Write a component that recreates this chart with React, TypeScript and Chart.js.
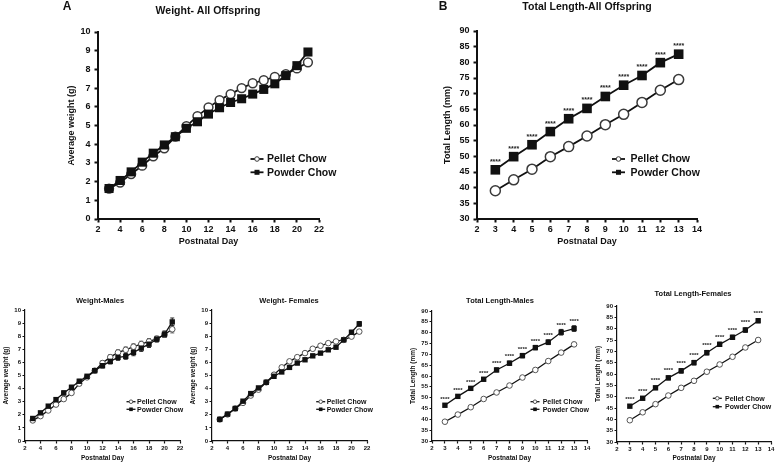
import React, { useEffect, useRef } from "react";
import { Chart, registerables } from "chart.js";

Chart.register(...registerables);

const FONT = "'Liberation Sans', Arial, Helvetica, sans-serif";

// ---------- data ----------
const seriesNames = ["Pellet Chow", "Powder Chow"];
const starLabel = "****";
const xTitleText = "Postnatal Day";
const weightTitleText = "Average weight (g)";
const lengthTitleText = "Total Length (mm)";

const weightDays = [3, 4, 5, 6, 7, 8, 9, 10, 11, 12, 13, 14, 15, 16, 17, 18, 19, 20, 21];
const lengthDays = [3, 4, 5, 6, 7, 8, 9, 10, 11, 12, 13];

const weightXRange = [2, 22, 2];
const weightYRange = [0, 10, 1];
const lengthXRange = [2, 14, 1];
const lengthYRange = [30, 90, 5];

const allWeightPellet = [1.62, 1.95, 2.4, 2.85, 3.35, 3.78, 4.4, 4.97, 5.5, 5.97, 6.36, 6.68, 7.0, 7.26, 7.42, 7.6, 7.74, 8.05, 8.38];
const allWeightPowder = [1.63, 2.06, 2.52, 3.04, 3.52, 3.96, 4.4, 4.85, 5.2, 5.61, 5.95, 6.23, 6.43, 6.68, 6.93, 7.23, 7.67, 8.2, 8.93];

const allLengthPellet = [39.0, 42.5, 45.9, 49.9, 53.1, 56.5, 60.1, 63.4, 67.2, 71.1, 74.5];
const allLengthPowder = [45.7, 49.9, 53.7, 57.9, 62.0, 65.3, 69.1, 72.7, 75.8, 79.9, 82.6];

const maleWeightPellet = [1.57, 1.9, 2.33, 2.78, 3.2, 3.67, 4.38, 4.86, 5.37, 5.95, 6.4, 6.76, 6.96, 7.2, 7.4, 7.6, 7.8, 8.13, 8.53];
const maleWeightPowder = [1.72, 2.15, 2.66, 3.16, 3.67, 4.1, 4.56, 4.94, 5.37, 5.75, 6.08, 6.38, 6.46, 6.76, 7.09, 7.39, 7.77, 8.15, 9.09];
const maleWeightPelletErr = [0.05, 0.06, 0.08, 0.1, 0.12, 0.14, 0.15, 0.15, 0.15, 0.18, 0.2, 0.2, 0.22, 0.22, 0.22, 0.22, 0.2, 0.22, 0.28];
const maleWeightPowderErr = [0.06, 0.08, 0.1, 0.12, 0.15, 0.15, 0.15, 0.14, 0.15, 0.18, 0.2, 0.22, 0.22, 0.25, 0.25, 0.25, 0.22, 0.25, 0.3];

const femaleWeightPellet = [1.65, 2.03, 2.48, 2.91, 3.47, 3.92, 4.48, 5.06, 5.62, 6.08, 6.4, 6.71, 7.04, 7.27, 7.47, 7.6, 7.72, 7.97, 8.35];
const femaleWeightPowder = [1.65, 2.05, 2.48, 3.04, 3.62, 4.05, 4.48, 4.94, 5.27, 5.62, 5.95, 6.2, 6.5, 6.71, 6.96, 7.16, 7.72, 8.3, 8.94];
const femaleWeightPelletErr = [0.04, 0.05, 0.06, 0.08, 0.08, 0.1, 0.1, 0.1, 0.1, 0.12, 0.12, 0.12, 0.12, 0.12, 0.12, 0.12, 0.12, 0.12, 0.15];
const femaleWeightPowderErr = [0.05, 0.06, 0.07, 0.1, 0.1, 0.12, 0.12, 0.12, 0.12, 0.12, 0.12, 0.12, 0.12, 0.12, 0.12, 0.12, 0.12, 0.15, 0.18];

const maleLengthPellet = [38.9, 42.2, 45.6, 49.4, 52.4, 55.6, 59.3, 62.8, 66.9, 70.8, 74.6];
const maleLengthPowder = [46.5, 50.6, 54.3, 58.5, 62.8, 65.9, 69.4, 73.1, 75.6, 80.2, 81.9];
const maleLengthPelletErr = [0.5, 0.5, 0.6, 0.6, 0.6, 0.6, 0.7, 0.7, 0.7, 0.7, 0.9];
const maleLengthPowderErr = [0.6, 0.6, 0.7, 0.8, 0.9, 1.0, 1.0, 1.0, 1.1, 1.3, 1.3];

const femaleLengthPellet = [39.6, 43.1, 46.7, 50.5, 53.9, 57.0, 61.0, 64.2, 67.6, 71.7, 75.0];
const femaleLengthPowder = [45.8, 49.3, 53.9, 58.3, 61.4, 65.0, 69.4, 73.1, 76.2, 79.4, 83.5];
const femaleLengthPelletErr = [0.4, 0.5, 0.5, 0.5, 0.6, 0.6, 0.6, 0.7, 0.7, 0.7, 0.8];
const femaleLengthPowderErr = [0.6, 0.7, 0.8, 0.9, 1.0, 1.0, 1.0, 0.9, 0.9, 1.0, 0.9];

// ---------- styles ----------
const bigStyle = {
  titleSize: 10.5, axisTitleSize: 9, tickSize: 9, legendSize: 10.5, starSize: 7,
  tickLen: 3.5, axisW: 2, lineW: 1.8, circleR: 4.4, rectR: 6.4, markerBW: 1.5,
  legendHalf: 6.5, legendCircleR: 2.3, legendRect: 5, pelletColor: "#3a3a3a",
  tickPadX: 2, tickPadY: 4, capW: 3, starOff: 10,
};
const smallStyle = {
  titleSize: 7.5, axisTitleSize: 6.5, tickSize: 6, legendSize: 7, starSize: 6,
  tickLen: 2.5, axisW: 1.2, lineW: 1.3, circleR: 2.8, rectR: 3.8, markerBW: 1,
  legendHalf: 4.5, legendCircleR: 1.8, legendRect: 3.6, pelletColor: "#555",
  tickPadX: 1.5, tickPadY: 1.5, capW: 2, starOff: 6,
};

type Cfg = any;

const panels: Cfg[] = [
  {
    st: bigStyle, box: { x: 40, y: 0, w: 320, h: 252 }, plot: { l: 98, t: 32, r: 319, b: 219 },
    xr: weightXRange, yr: weightYRange, days: weightDays, pellet: allWeightPellet, powder: allWeightPowder,
    title: "Weight- All Offspring", titleX: 208, titleY: 11, letter: "A", letterX: 67, letterY: 7,
    yTitle: weightTitleText, yTitleX: 71.7, xTitleY: 242,
    legend: { mx: 257, tx: 267, rows: [159, 172.3] }, stars: false,
  },
  {
    st: { ...bigStyle, circleR: 5, rectR: 6.8 }, box: { x: 420, y: 0, w: 300, h: 252 }, plot: { l: 477, t: 31, r: 697, b: 219 },
    xr: lengthXRange, yr: lengthYRange, days: lengthDays, pellet: allLengthPellet, powder: allLengthPowder,
    title: "Total Length-All Offspring", titleX: 587, titleY: 7.5, letter: "B", letterX: 443, letterY: 7,
    yTitle: lengthTitleText, yTitleX: 448, xTitleY: 242,
    legend: { mx: 618.5, tx: 630.5, rows: [159, 172.3] }, stars: true,
  },
  {
    st: smallStyle, box: { x: 0, y: 285, w: 188, h: 181 }, plot: { l: 25, t: 310, r: 180, b: 441 },
    xr: weightXRange, yr: weightYRange, days: weightDays, pellet: maleWeightPellet, powder: maleWeightPowder,
    pelletErr: maleWeightPelletErr, powderErr: maleWeightPowderErr,
    title: "Weight-Males", titleX: 100, titleY: 301,
    yTitle: weightTitleText, yTitleX: 6, xTitleY: 458,
    legend: { mx: 131, tx: 137, rows: [401.7, 409.3] }, stars: false,
  },
  {
    st: smallStyle, box: { x: 188, y: 285, w: 186, h: 181 }, plot: { l: 212, t: 310, r: 367, b: 441 },
    xr: weightXRange, yr: weightYRange, days: weightDays, pellet: femaleWeightPellet, powder: femaleWeightPowder,
    pelletErr: femaleWeightPelletErr, powderErr: femaleWeightPowderErr,
    title: "Weight- Females", titleX: 289, titleY: 301,
    yTitle: weightTitleText, yTitleX: 193, xTitleY: 458,
    legend: { mx: 320.7, tx: 326.7, rows: [401.7, 409.3] }, stars: false,
  },
  {
    st: smallStyle, box: { x: 400, y: 285, w: 192, h: 181 }, plot: { l: 432, t: 311, r: 587, b: 441 },
    xr: lengthXRange, yr: lengthYRange, days: lengthDays, pellet: maleLengthPellet, powder: maleLengthPowder,
    pelletErr: maleLengthPelletErr, powderErr: maleLengthPowderErr,
    title: "Total Length-Males", titleX: 500, titleY: 301,
    yTitle: lengthTitleText, yTitleX: 413, xTitleY: 458,
    legend: { mx: 535, tx: 542.7, rows: [401.7, 409.3] }, stars: true,
  },
  {
    st: { ...smallStyle, starOff: 7 }, box: { x: 592, y: 280, w: 185, h: 186 }, plot: { l: 617, t: 306, r: 771, b: 442 },
    xr: lengthXRange, yr: lengthYRange, days: lengthDays, pellet: femaleLengthPellet, powder: femaleLengthPowder,
    pelletErr: femaleLengthPelletErr, powderErr: femaleLengthPowderErr,
    title: "Total Length-Females", titleX: 693, titleY: 294.3,
    yTitle: lengthTitleText, yTitleX: 598, xTitleY: 458,
    legend: { mx: 717.3, tx: 725, rows: [398.3, 406.7] }, stars: true,
  },
];

function Panel({ cfg }: { cfg: Cfg }) {
  const ref = useRef<HTMLCanvasElement>(null);
  useEffect(() => {
    const c = cfg;
    const s = c.st;
    const W = c.box.w;
    const H = c.box.h;
    const yw = c.plot.l - c.box.x;
    const xh = c.box.y + H - c.plot.b;
    const padTop = c.plot.t - c.box.y;
    const padRight = c.box.x + W - c.plot.r;
    const half = (s.axisTitleSize * 1.2) / 2;
    const px = (v: number) => v - c.box.x;
    const py = (v: number) => v - c.box.y;
    const bold = (size: number) => ({ family: FONT, size, weight: "bold" as const });

    const drawMarker = (ctx: CanvasRenderingContext2D, kind: number, x: number, y: number, r: number, sq: number) => {
      ctx.save();
      if (kind === 0) {
        ctx.beginPath();
        ctx.arc(x, y, r, 0, Math.PI * 2);
        ctx.fillStyle = "#fff";
        ctx.fill();
        ctx.lineWidth = 1;
        ctx.strokeStyle = s.pelletColor;
        ctx.stroke();
      } else {
        ctx.fillStyle = "#111";
        ctx.fillRect(x - sq / 2, y - sq / 2, sq, sq);
      }
      ctx.restore();
    };

    const decor = {
      id: "decor",
      beforeDatasetsDraw(chart: any) {
        const ctx = chart.ctx;
        const xs = chart.scales.x;
        const ys = chart.scales.y;
        const sets = [
          { vals: c.pellet, err: c.pelletErr, color: s.pelletColor },
          { vals: c.powder, err: c.powderErr, color: "#111" },
        ];
        ctx.save();
        sets.forEach((set) => {
          if (!set.err) return;
          ctx.strokeStyle = set.color;
          ctx.lineWidth = 0.9;
          c.days.forEach((d: number, i: number) => {
            const x = xs.getPixelForValue(d);
            const y1 = ys.getPixelForValue(set.vals[i] + set.err[i]);
            const y2 = ys.getPixelForValue(set.vals[i] - set.err[i]);
            ctx.beginPath();
            ctx.moveTo(x, y1);
            ctx.lineTo(x, y2);
            ctx.moveTo(x - s.capW, y1);
            ctx.lineTo(x + s.capW, y1);
            ctx.moveTo(x - s.capW, y2);
            ctx.lineTo(x + s.capW, y2);
            ctx.stroke();
          });
        });
        ctx.restore();
      },
      afterDraw(chart: any) {
        const ctx = chart.ctx as CanvasRenderingContext2D;
        const ys = chart.scales.y;
        ctx.save();
        ctx.fillStyle = "#111";
        ctx.textAlign = "center";
        ctx.textBaseline = "middle";
        ctx.font = `bold ${s.titleSize}px ${FONT}`;
        ctx.fillText(c.title, px(c.titleX), py(c.titleY));
        if (c.letter) {
          ctx.font = `bold 12px ${FONT}`;
          ctx.fillText(c.letter, px(c.letterX), py(c.letterY));
        }
        // legend
        const lg = c.legend;
        seriesNames.forEach((name, k) => {
          const y = py(lg.rows[k]);
          const mx = px(lg.mx);
          ctx.strokeStyle = "#111";
          ctx.lineWidth = s.lineW;
          ctx.beginPath();
          ctx.moveTo(mx - s.legendHalf, y);
          ctx.lineTo(mx + s.legendHalf, y);
          ctx.stroke();
          drawMarker(ctx, k, mx, y, s.legendCircleR, s.legendRect);
          ctx.fillStyle = "#111";
          ctx.textAlign = "left";
          ctx.textBaseline = "middle";
          ctx.font = `bold ${s.legendSize}px ${FONT}`;
          ctx.fillText(name, px(lg.tx), y + 0.5);
        });
        // significance stars
        if (c.stars) {
          const meta = chart.getDatasetMeta(1);
          ctx.textAlign = "center";
          ctx.textBaseline = "alphabetic";
          ctx.fillStyle = "#222";
          ctx.font = `bold ${s.starSize}px ${FONT}`;
          meta.data.forEach((pt: any, i: number) => {
            let errPx = 0;
            if (c.powderErr) {
              errPx = ys.getPixelForValue(c.powder[i]) - ys.getPixelForValue(c.powder[i] + c.powderErr[i]);
            }
            const cy = pt.y - s.starOff - errPx;
            ctx.fillText(starLabel, pt.x, cy + 0.57 * s.starSize);
          });
        }
        ctx.restore();
      },
    };

    const mk = (vals: number[]) => c.days.map((d: number, i: number) => ({ x: d, y: vals[i] }));

    const chart = new Chart(ref.current as HTMLCanvasElement, {
      type: "line",
      data: {
        datasets: [
          {
            label: seriesNames[0],
            data: mk(c.pellet),
            borderColor: "#111",
            borderWidth: s.lineW,
            pointStyle: "circle",
            pointRadius: s.circleR,
            pointBackgroundColor: "#fff",
            pointBorderColor: s.pelletColor,
            pointBorderWidth: s.markerBW,
            order: 1,
            clip: false,
          } as any,
          {
            label: seriesNames[1],
            data: mk(c.powder),
            borderColor: "#111",
            borderWidth: s.lineW,
            pointStyle: "rect",
            pointRadius: s.rectR,
            pointBackgroundColor: "#111",
            pointBorderColor: "#111",
            pointBorderWidth: 0,
            order: 0,
            clip: false,
          } as any,
        ],
      },
      options: {
        responsive: false,
        maintainAspectRatio: false,
        animation: false,
        events: [],
        layout: { padding: { top: padTop, right: padRight, left: 0, bottom: 0 } },
        plugins: { legend: { display: false }, tooltip: { enabled: false }, title: { display: false } },
        scales: {
          x: {
            type: "linear",
            min: c.xr[0],
            max: c.xr[1],
            afterFit: (sc: any) => { sc.height = xh; },
            ticks: {
              stepSize: c.xr[2], autoSkip: false, maxRotation: 0, color: "#111",
              font: bold(s.tickSize), padding: s.tickPadX,
            },
            grid: { drawOnChartArea: false, drawTicks: true, tickLength: s.tickLen, tickWidth: s.axisW, tickColor: "#111" },
            border: { display: true, color: "#111", width: s.axisW },
            title: {
              display: true, text: xTitleText, color: "#111", font: bold(s.axisTitleSize),
              padding: { top: 0, bottom: c.box.y + H - c.xTitleY - half },
            },
          },
          y: {
            type: "linear",
            min: c.yr[0],
            max: c.yr[1],
            afterFit: (sc: any) => { sc.width = yw; },
            ticks: {
              stepSize: c.yr[2], autoSkip: false, color: "#111",
              font: bold(s.tickSize), padding: s.tickPadY,
            },
            grid: { drawOnChartArea: false, drawTicks: true, tickLength: s.tickLen, tickWidth: s.axisW, tickColor: "#111" },
            border: { display: true, color: "#111", width: s.axisW },
            title: {
              display: true, text: c.yTitle, color: "#111", font: bold(s.axisTitleSize),
              padding: { top: c.yTitleX - c.box.x - half, bottom: 0 },
            },
          },
        },
      } as any,
      plugins: [decor],
    });
    return () => chart.destroy();
  }, [cfg]);

  return (
    <canvas
      ref={ref}
      width={cfg.box.w}
      height={cfg.box.h}
      style={{ position: "absolute", left: cfg.box.x, top: cfg.box.y, width: cfg.box.w, height: cfg.box.h }}
    />
  );
}

export default function App() {
  return (
    <div style={{ position: "fixed", left: 0, top: 0, width: 777, height: 466, background: "#fff", overflow: "hidden" }}>
      {panels.map((p, i) => (
        <Panel key={i} cfg={p} />
      ))}
    </div>
  );
}
